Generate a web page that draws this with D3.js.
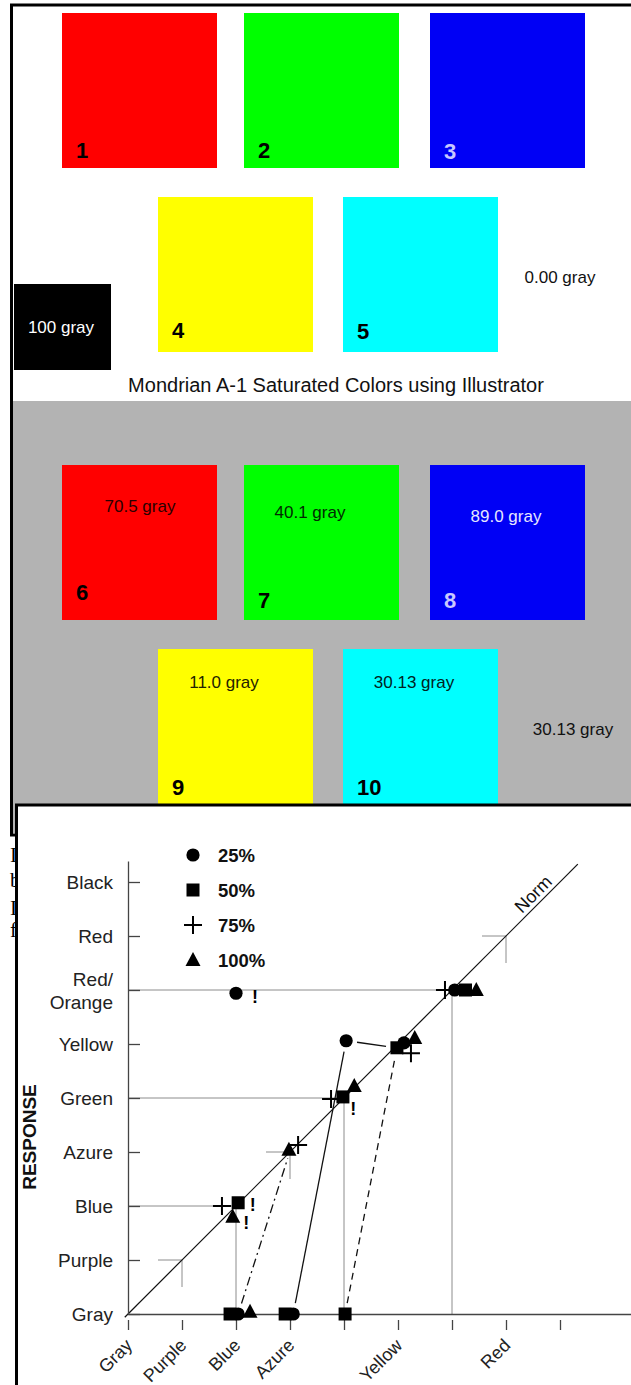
<!DOCTYPE html>
<html><head><meta charset="utf-8">
<script src="https://cdn.jsdelivr.net/npm/d3@7"></script>
<style>html,body{margin:0;padding:0;background:#fff;}svg{display:block;}</style>
</head><body>
<svg id="fig" width="631" height="1385"></svg>
<script>
// ---- Mondrian swatches ----
const swatchNumbers = ["1", "2", "3", "4", "5"];
const swatchNumbersGray = ["6", "7", "8", "9", "10"];
const swatchColors = ["#ff0000", "#00ff00", "#0000f5", "#ffff00", "#00ffff"];
const grayEquivalents = ["70.5 gray", "40.1 gray", "89.0 gray", "11.0 gray", "30.13 gray"];
const surroundWhite = "0.00 gray";
const surroundGray = "30.13 gray";
const blackPatch = "100 gray";
const caption = "Mondrian A-1 Saturated Colors using Illustrator";

// ---- Response chart ----
const responseCategories = ["Gray", "Purple", "Blue", "Azure", "Green", "Yellow", "Red/Orange", "Red", "Black"];
const stimulusLabels = ["Gray", "Purple", "Blue", "Azure", "", "Yellow", "", "Red", ""];
const seriesNames = ["25%", "50%", "75%", "100%"];
const series25 = [[2.0, 5.94], [6.05, 6.0], [5.11, 5.02], [4.04, 5.06], [3.06, 0], [2.04, 0]];
const series50 = [[6.25, 6.0], [4.98, 4.93], [3.98, 4.02], [2.04, 2.06], [2.91, 0], [1.89, 0], [4.02, 0]];
const series75 = [[5.87, 6.0], [5.24, 4.83], [3.76, 3.98], [3.15, 3.13], [1.74, 2.0]];
const series100 = [[6.45, 6.0], [5.31, 5.11], [4.19, 4.22], [2.98, 3.04], [1.94, 1.8], [2.26, 0.04]];
const linksSolid = [[[3.06, 0], [4.04, 5.06]], [[4.04, 5.06], [4.98, 4.93]]];
const linksDashed = [[[4.02, 0], [4.98, 4.93]]];
const linksDashDot = [[[2.04, 0], [3.02, 3.08]]];
const matchedStimuli = [2, 4, 6];
const crossStimuli = [1, 3, 7];
const exclaims = [[2.35, 5.87], [4.17, 3.81], [2.31, 2.02], [2.19, 1.69]];

const svg = d3.select("#fig");
const SANS = "'Liberation Sans', Arial, Helvetica, sans-serif";

// ---------- upper figure: swatches on white and gray surrounds ----------
svg.append("rect").attr("x", 11.5).attr("y", 5).attr("width", 700).attr("height", 830)
  .attr("fill", "#fff").attr("stroke", "#000").attr("stroke-width", 3);
svg.append("rect").attr("x", 13).attr("y", 401).attr("width", 700).attr("height", 432)
  .attr("fill", "#b3b3b3");

const slots = [[62, 13], [244, 13], [430, 13], [158, 197], [343, 197]];
const grayShift = 452;
const side = 155;
const numberColors = ["#000", "#000", "#c8c8ff", "#000", "#000"];
const numBaseTop = [145, 145, 146, 141, 142];
const numBaseGray = [135, 143, 143, 146, 146];

const upper = svg.append("g");
swatchColors.forEach((c, i) => {
  const [sx, sy] = slots[i];
  upper.append("rect").attr("x", sx).attr("y", sy).attr("width", side).attr("height", side).attr("fill", c);
  upper.append("text").attr("x", sx + 14).attr("y", sy + numBaseTop[i])
    .attr("font-family", SANS).attr("font-weight", "bold").attr("font-size", 22)
    .attr("fill", numberColors[i]).text(swatchNumbers[i]);
  upper.append("rect").attr("x", sx).attr("y", sy + grayShift).attr("width", side).attr("height", side).attr("fill", c);
  upper.append("text").attr("x", sx + 14).attr("y", sy + grayShift + numBaseGray[i])
    .attr("font-family", SANS).attr("font-weight", "bold").attr("font-size", 22)
    .attr("fill", numberColors[i]).text(swatchNumbersGray[i]);
});

const grayLabelPos = [[140, 512], [310, 518], [506, 522], [224, 688], [414, 688]];
const grayLabelFill = ["#2a0000", "#002a00", "#e6e6ff", "#222200", "#002222"];
grayEquivalents.forEach((t, i) => {
  upper.append("text").attr("x", grayLabelPos[i][0]).attr("y", grayLabelPos[i][1])
    .attr("text-anchor", "middle").attr("font-family", SANS).attr("font-size", 17)
    .attr("fill", grayLabelFill[i]).text(t);
});

upper.append("rect").attr("x", 14).attr("y", 284).attr("width", 97).attr("height", 86).attr("fill", "#000");
upper.append("text").attr("x", 61).attr("y", 333).attr("text-anchor", "middle")
  .attr("font-family", SANS).attr("font-size", 17).attr("fill", "#fff").text(blackPatch);
upper.append("text").attr("x", 560).attr("y", 283).attr("text-anchor", "middle")
  .attr("font-family", SANS).attr("font-size", 17).attr("fill", "#111").text(surroundWhite);
upper.append("text").attr("x", 573).attr("y", 735).attr("text-anchor", "middle")
  .attr("font-family", SANS).attr("font-size", 17).attr("fill", "#111").text(surroundGray);
upper.append("text").attr("x", 336).attr("y", 392).attr("text-anchor", "middle")
  .attr("font-family", SANS).attr("font-size", 20).attr("fill", "#111").text(caption);

// running text of the page, left edge showing beside the chart
const bodyLines = [["In", 862], ["by", 887], ["In", 915], ["fo", 937]];
bodyLines.forEach(([t, yb]) => {
  svg.append("text").attr("x", 10).attr("y", yb).attr("font-family", "'Liberation Serif', serif")
    .attr("font-size", 21).attr("fill", "#000").text(t);
});

// ---------- lower figure: stimulus vs response ----------
svg.append("rect").attr("x", 16.5).attr("y", 805).attr("width", 700).attr("height", 700)
  .attr("fill", "#fff").attr("stroke", "#000").attr("stroke-width", 3);

const unit = 54;
const x0 = 128, y0 = 1314;
const x = d3.scaleLinear().domain([0, 9.6]).range([x0, x0 + 9.6 * unit]);
const y = d3.scaleLinear().domain([0, 8.39]).range([y0, y0 - 8.39 * unit]);

const chart = svg.append("g");

// gray guide lines for matched stimuli
const guide = chart.append("g").attr("stroke", "#8c8c8c").attr("stroke-width", 1).attr("fill", "none");
matchedStimuli.forEach(v => {
  guide.append("line").attr("x1", x(0)).attr("x2", x(v)).attr("y1", y(v)).attr("y2", y(v));
  guide.append("line").attr("x1", x(v)).attr("x2", x(v)).attr("y1", y(v)).attr("y2", y(0));
});
crossStimuli.forEach(v => {
  guide.append("line").attr("x1", x(v) - 24).attr("x2", x(v)).attr("y1", y(v)).attr("y2", y(v));
  guide.append("line").attr("x1", x(v)).attr("x2", x(v)).attr("y1", y(v)).attr("y2", y(v) + 27);
});

// identity ("Norm") line
chart.append("line").attr("x1", x(-0.06)).attr("y1", y(-0.06)).attr("x2", x(8.33)).attr("y2", y(8.33))
  .attr("stroke", "#111").attr("stroke-width", 1.2);
const nx = 7.64;
chart.append("text").attr("transform", `translate(${x(nx) - 7.5},${y(nx) - 7.5}) rotate(-45)`)
  .attr("text-anchor", "middle").attr("dy", "0.35em")
  .attr("font-family", SANS).attr("font-size", 18).attr("fill", "#111").text("Norm");

// connectors between related responses
function drawLinks(links, dash) {
  links.forEach(([a, b]) => {
    const ax = x(a[0]), ay = y(a[1]), bx = x(b[0]), by = y(b[1]);
    const len = Math.hypot(bx - ax, by - ay), ux = (bx - ax) / len, uy = (by - ay) / len;
    const trim = 11;
    chart.append("line")
      .attr("x1", ax + ux * trim).attr("y1", ay + uy * trim)
      .attr("x2", bx - ux * trim).attr("y2", by - uy * trim)
      .attr("stroke", "#111").attr("stroke-width", 1.3)
      .attr("stroke-dasharray", dash);
  });
}
drawLinks(linksSolid, null);
drawLinks(linksDashed, "7,5");
drawLinks(linksDashDot, "9,4,2,4");

// axes
const yAxis = d3.axisLeft(y).tickValues(d3.range(9)).tickSizeInner(-12).tickSizeOuter(0)
  .tickPadding(15).tickFormat(i => responseCategories[i]);
const gy = chart.append("g").attr("transform", `translate(${x0},0)`).call(yAxis);
gy.select(".domain").attr("stroke", "#444").attr("stroke-width", 1.3);
gy.selectAll(".tick line").attr("stroke", "#444").attr("stroke-width", 1.3);
gy.selectAll(".tick text").attr("font-family", SANS).attr("font-size", 19).attr("fill", "#222")
  .each(function (d) {
    const label = responseCategories[d];
    if (label.includes("/")) {
      const sel = d3.select(this).text(null);
      const parts = label.split("/");
      sel.append("tspan").attr("x", -15).attr("y", -11).attr("dy", "0.32em").text(parts[0] + "/");
      sel.append("tspan").attr("x", -15).attr("y", 12).attr("dy", "0.32em").text(parts[1]);
    }
  });

const xAxis = d3.axisBottom(x).tickValues(d3.range(9)).tickSizeInner(16).tickSizeOuter(0).tickFormat("");
const gx = chart.append("g").attr("transform", `translate(0,${y0})`).call(xAxis);
gx.select(".domain").attr("stroke", "#444").attr("stroke-width", 1.3);
gx.selectAll(".tick line").attr("y1", 6).attr("stroke", "#444").attr("stroke-width", 1.3);
stimulusLabels.forEach((t, i) => {
  if (!t) return;
  chart.append("text")
    .attr("transform", `translate(${x(i) + 1},${y0 + 28}) rotate(-45)`)
    .attr("text-anchor", "end").attr("dy", "0.35em")
    .attr("font-family", SANS).attr("font-size", 18).attr("fill", "#222").text(t);
});

chart.append("text").attr("transform", `translate(29,1137) rotate(-90)`)
  .attr("text-anchor", "middle").attr("dy", "0.35em")
  .attr("font-family", SANS).attr("font-weight", "bold").attr("font-size", 19).attr("fill", "#111")
  .text("RESPONSE");

// markers
const shapes = ["circle", "square", "plus", "triangle"];
function marker(g, kind, cx, cy) {
  if (kind === "circle") {
    g.append("circle").attr("cx", cx).attr("cy", cy).attr("r", 6.6).attr("fill", "#000");
  } else if (kind === "square") {
    g.append("rect").attr("x", cx - 6.5).attr("y", cy - 6.5).attr("width", 13).attr("height", 13).attr("fill", "#000");
  } else if (kind === "plus") {
    g.append("path").attr("d", `M${cx - 9},${cy}H${cx + 9}M${cx},${cy - 9}V${cy + 9}`)
      .attr("stroke", "#000").attr("stroke-width", 2).attr("fill", "none");
  } else {
    g.append("path").attr("d", `M${cx},${cy - 8}L${cx + 7.5},${cy + 6}L${cx - 7.5},${cy + 6}Z`).attr("fill", "#000");
  }
}
const allSeries = [series25, series50, series75, series100];
const mk = chart.append("g");
[series100, series75, series50, series25].forEach(s => {
  const k = shapes[allSeries.indexOf(s)];
  s.forEach(([a, b]) => marker(mk, k, x(a), y(b)));
});

exclaims.forEach(([a, b]) => {
  chart.append("text").attr("x", x(a)).attr("y", y(b)).attr("dy", "0.35em").attr("text-anchor", "middle")
    .attr("font-family", SANS).attr("font-weight", "bold").attr("font-size", 18).attr("fill", "#000").text("!");
});

// legend
const lg = chart.append("g");
seriesNames.forEach((name, i) => {
  const ly = 855 + i * 35;
  marker(lg, shapes[i], 193, ly);
  lg.append("text").attr("x", 218).attr("y", ly).attr("dy", "0.36em")
    .attr("font-family", SANS).attr("font-weight", "bold").attr("font-size", 18.5).attr("fill", "#111").text(name);
});
</script>
</body></html>
